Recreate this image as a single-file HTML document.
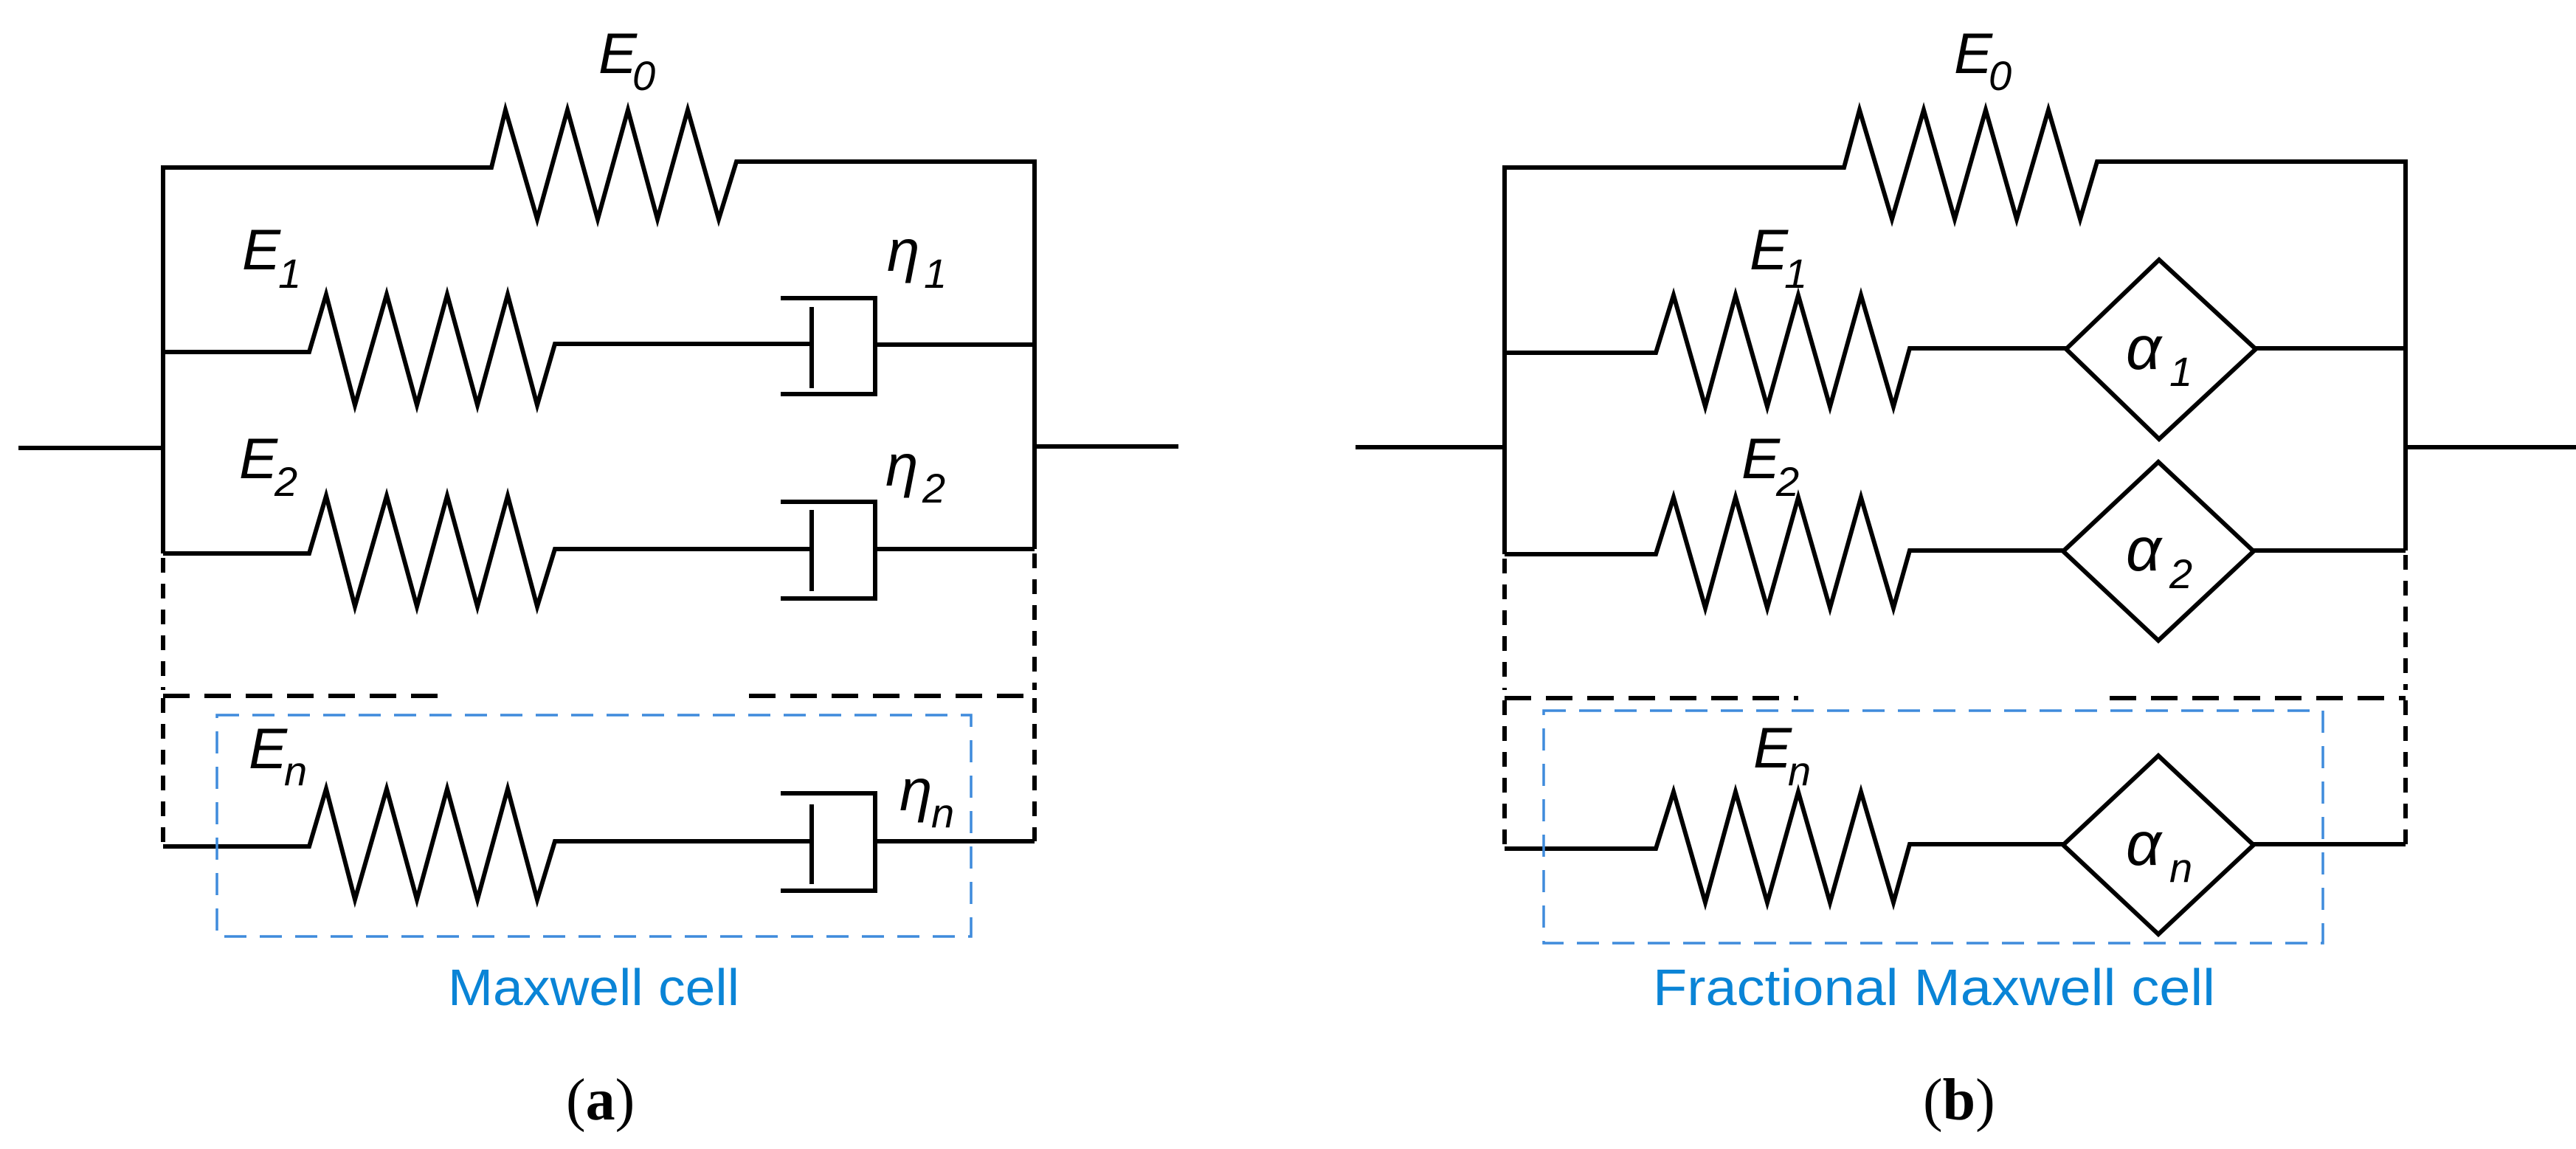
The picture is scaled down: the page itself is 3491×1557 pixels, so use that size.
<!DOCTYPE html>
<html><head><meta charset="utf-8"><style>html,body{margin:0;padding:0;background:#fff}svg{display:block}</style></head>
<body>
<svg width="3491" height="1557" viewBox="0 0 3491 1557" xmlns="http://www.w3.org/2000/svg">
<g fill="none" stroke="#000" stroke-width="6" stroke-linejoin="miter">
<!-- LEFT PANEL -->
<line x1="25" y1="607" x2="221" y2="607"/>
<line x1="1402" y1="605" x2="1597" y2="605"/>
<line x1="221" y1="224" x2="221" y2="750"/>
<line x1="1402" y1="216" x2="1402" y2="744"/>
<polyline points="221,227 666,227 685,149 728,297 769,149 810,297 851,149 891,297 932,149 974,297 998,219 1402,219"/>
<!-- row1 -->
<polyline points="221,477 419,477 442,399 481,549 524,399 565,549 606,399 647,549 688,399 728,549 752,466 1100,466"/>
<line x1="1100" y1="416" x2="1100" y2="526"/>
<polyline points="1058,404 1186,404 1186,534 1058,534"/>
<line x1="1186" y1="467" x2="1402" y2="467"/>
<!-- row2 -->
<polyline points="221,750 419,750 442,672 481,822 524,672 565,822 606,672 647,822 688,672 728,822 752,744 1100,744"/>
<line x1="1100" y1="691" x2="1100" y2="801"/>
<polyline points="1058,680 1186,680 1186,811 1058,811"/>
<line x1="1186" y1="744" x2="1402" y2="744"/>
<!-- dashed -->
<g stroke-dasharray="20 15">
<line x1="221" y1="756" x2="221" y2="935"/>
<line x1="1402" y1="750" x2="1402" y2="935"/>
<line x1="221" y1="946" x2="221" y2="1147"/>
<line x1="1402" y1="946" x2="1402" y2="1140"/>
</g>
<g stroke-dasharray="36 20">
<line x1="221" y1="943" x2="607" y2="943"/>
<line x1="1015" y1="943" x2="1402" y2="943"/>
</g>
<!-- row n -->
<polyline points="221,1147 419,1147 442,1069 481,1219 524,1069 565,1219 606,1069 647,1219 688,1069 728,1219 752,1140 1100,1140"/>
<line x1="1100" y1="1090" x2="1100" y2="1198"/>
<polyline points="1058,1075 1186,1075 1186,1207 1058,1207"/>
<line x1="1186" y1="1140" x2="1402" y2="1140"/>

<!-- RIGHT PANEL -->
<line x1="1837" y1="606" x2="2039" y2="606"/>
<line x1="3260" y1="606" x2="3491" y2="606"/>
<line x1="2039" y1="224" x2="2039" y2="751"/>
<line x1="3260" y1="216" x2="3260" y2="746"/>
<polyline points="2039,227 2499,227 2520,149 2564,297 2607,149 2649,297 2691,149 2733,297 2776,149 2819,297 2842,219 3260,219"/>
<polyline points="2039,478 2244,478 2268,400 2311,551 2352,400 2395,551 2437,400 2480,551 2522,400 2566,551 2588,472 2800,472"/>
<polygon points="2800,473 2926,352 3057,473 2926,595"/>
<line x1="3057" y1="472" x2="3260" y2="472"/>
<polyline points="2039,751 2244,751 2268,674 2311,824 2352,674 2395,824 2437,674 2480,824 2522,674 2566,824 2588,746 2796,746"/>
<polygon points="2796,747 2925,626 3054,747 2925,868"/>
<line x1="3054" y1="746" x2="3260" y2="746"/>
<g stroke-dasharray="20 15">
<line x1="2039" y1="757" x2="2039" y2="935"/>
<line x1="3260" y1="752" x2="3260" y2="935"/>
<line x1="2039" y1="949" x2="2039" y2="1150"/>
<line x1="3260" y1="949" x2="3260" y2="1144"/>
</g>
<g stroke-dasharray="36 20">
<line x1="2039" y1="946" x2="2437" y2="946"/>
<line x1="2859" y1="946" x2="3260" y2="946"/>
</g>
<polyline points="2039,1150 2244,1150 2268,1073 2311,1223 2352,1073 2395,1223 2437,1073 2480,1223 2522,1073 2566,1223 2588,1144 2796,1144"/>
<polygon points="2796,1145 2925,1024 3054,1145 2925,1266"/>
<line x1="3054" y1="1144" x2="3260" y2="1144"/>
</g>
<!-- blue boxes -->
<g fill="none" stroke="#3f8bdc" stroke-width="3.5" stroke-dasharray="30 18">
<rect x="294" y="969" width="1022" height="300"/>
<rect x="2092" y="963" width="1056" height="315"/>
</g>
<!-- labels -->
<g font-family="Liberation Sans, DejaVu Sans, sans-serif" font-style="italic" fill="#000">
<text x="811" y="99" font-size="78">E</text><text x="857" y="122" font-size="56">0</text>
<text x="328" y="365" font-size="78">E</text><text x="377" y="390" font-size="56">1</text>
<text x="1202" y="367" font-size="80">η</text><text x="1252" y="390" font-size="56">1</text>
<text x="324" y="648" font-size="78">E</text><text x="372" y="672" font-size="56">2</text>
<text x="1200" y="658" font-size="80">η</text><text x="1250" y="681" font-size="56">2</text>
<text x="337" y="1041" font-size="78">E</text><text x="385" y="1064" font-size="56">n</text>
<text x="1219" y="1098" font-size="80">η</text><text x="1262" y="1121" font-size="56">n</text>
<text x="2648" y="99" font-size="78">E</text><text x="2695" y="122" font-size="56">0</text>
<text x="2371" y="365" font-size="78">E</text><text x="2418" y="390" font-size="56">1</text>
<text x="2360" y="648" font-size="78">E</text><text x="2407" y="672" font-size="56">2</text>
<text x="2376" y="1040" font-size="78">E</text><text x="2423" y="1064" font-size="56">n</text>
<text x="2881" y="500" font-size="84">α</text><text x="2940" y="523" font-size="56">1</text>
<text x="2881" y="773" font-size="84">α</text><text x="2940" y="797" font-size="56">2</text>
<text x="2881" y="1172" font-size="84">α</text><text x="2940" y="1195" font-size="56">n</text>
</g>
<g font-family="Liberation Sans, DejaVu Sans, sans-serif" font-size="70" fill="#0a84d6">
<text x="607" y="1362" textLength="395" lengthAdjust="spacingAndGlyphs">Maxwell cell</text>
<text x="2240" y="1362" textLength="762" lengthAdjust="spacingAndGlyphs">Fractional Maxwell cell</text>
</g>
<g font-family="Liberation Serif, DejaVu Serif, serif" font-size="80" fill="#000">
<text x="767" y="1517">(<tspan font-weight="bold">a</tspan>)</text>
<text x="2606" y="1517">(<tspan font-weight="bold">b</tspan>)</text>
</g>
</svg>
</body></html>
